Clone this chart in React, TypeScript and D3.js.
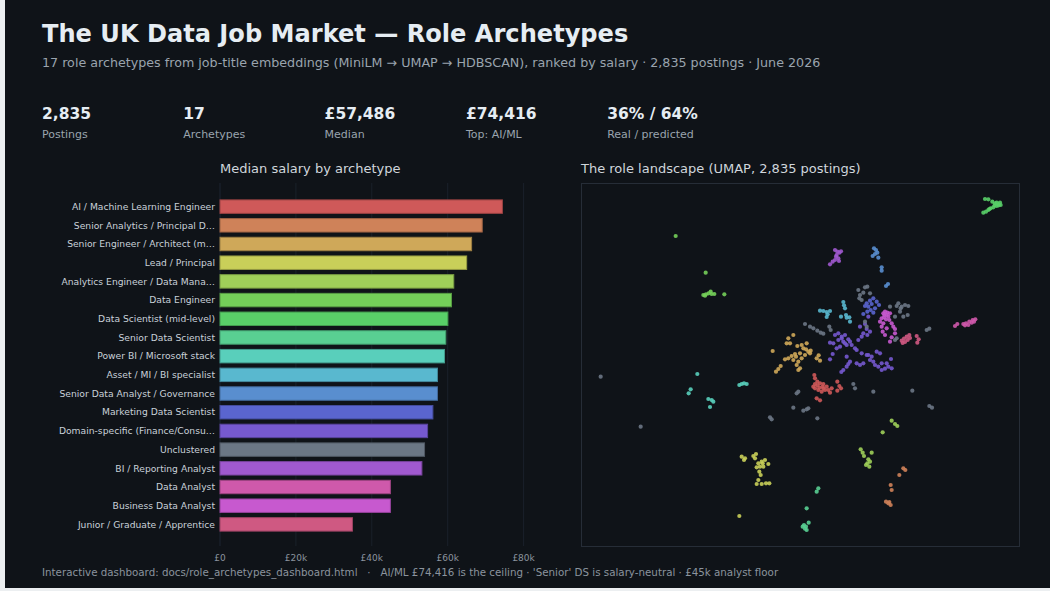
import React from 'react';
import * as d3 from 'd3';

const W = 1050;
const H = 591;

const titleText = 'The UK Data Job Market — Role Archetypes';
const subtitleText =
  '17 role archetypes from job-title embeddings (MiniLM → UMAP → HDBSCAN), ranked by salary · 2,835 postings · June 2026';
const footerText =
  "Interactive dashboard: docs/role_archetypes_dashboard.html   ·   AI/ML £74,416 is the ceiling · 'Senior' DS is salary-neutral · £45k analyst floor";

const kpiValues = ['2,835', '17', '£57,486', '£74,416', '36% / 64%'];
const kpiLabels = ['Postings', 'Archetypes', 'Median', 'Top: AI/ML', 'Real / predicted'];

// archetypes ranked by median salary (bar labels are truncated like the source)
const archetypes = [
  'AI / Machine Learning Engineer',
  'Senior Analytics / Principal D…',
  'Senior Engineer / Architect (m…',
  'Lead / Principal',
  'Analytics Engineer / Data Mana…',
  'Data Engineer',
  'Data Scientist (mid-level)',
  'Senior Data Scientist',
  'Power BI / Microsoft stack',
  'Asset / MI / BI specialist',
  'Senior Data Analyst / Governance',
  'Marketing Data Scientist',
  'Domain-specific (Finance/Consu…',
  'Unclustered',
  'BI / Reporting Analyst',
  'Data Analyst',
  'Business Data Analyst',
  'Junior / Graduate / Apprentice',
];
const medianSalary = [
  74416, 69100, 66300, 65000, 61600, 61000, 60050, 59500, 59150, 57300, 57300, 56100, 54700, 53900,
  53200, 44900, 44900, 34900,
];
const archetypeColors = [
  '#cf5959', '#cf8259', '#cfa859', '#c9cf59', '#9fcf59', '#74cf59', '#59cf68', '#59cf92', '#59cfbb',
  '#59b8cf', '#598ecf', '#5a65cf', '#7659cf', '#6b7785', '#a059cf', '#cf59ab', '#c759cf', '#cf5982',
];
const salaryTicks = [0, 20000, 40000, 60000, 80000];

const umapPoints: [number, number][][] = [
  // AI / ML
  [[5.03,3.15],[5.05,3.05],[5.05,2.88],[5.12,2.84],[5.2,2.9],[5.3,2.88],[5.4,2.8],[5.35,2.7],[5.25,2.65],[5.15,2.7],[5.05,2.75],[5.0,2.8],[5.45,2.7],[5.5,2.62],[5.55,2.75],[5.72,2.95],[5.78,2.82],[5.83,2.75],[5.72,2.68],[5.1,2.45],[5.2,2.39],[5.28,2.8],[5.18,2.77],[5.12,2.95],[5.3,2.75]],
  // Senior Analytics
  [[7.7,0.35],[7.76,0.3],[7.58,0.15],[7.32,-0.15],[7.35,-0.3],[7.18,-0.65],[7.25,-0.7],[7.32,-0.75],[7.28,-0.66]],
  // Senior Engineer
  [[4.4,4.35],[4.25,4.25],[4.2,4.1],[4.3,4.1],[3.78,3.87],[4.52,4.02],[4.65,4.05],[4.8,4.1],[4.7,3.95],[4.85,3.85],[4.9,3.8],[4.75,3.75],[4.6,3.8],[4.45,3.78],[4.35,3.72],[4.25,3.65],[4.15,3.62],[4.4,3.6],[4.55,3.55],[4.5,3.45],[4.6,3.35],[4.55,3.3],[4.02,3.42],[3.95,3.33],[3.88,3.25],[5.1,3.65],[5.2,3.58],[5.16,3.74],[4.78,3.92],[4.92,3.88],[4.48,3.7],[4.65,3.65]],
  // Lead / Principal
  [[2.85,0.7],[2.95,0.65],[2.92,0.6],[3.2,0.72],[3.28,0.78],[3.25,0.65],[3.35,0.5],[3.45,0.55],[3.55,0.6],[3.65,0.48],[3.4,0.4],[3.5,0.4],[3.3,0.38],[3.38,0.25],[3.42,0.15],[3.35,0.0],[3.3,-0.12],[3.45,-0.12],[3.58,-0.1],[3.68,-0.1],[3.48,0.5],[2.78,-1.08]],
  // Analytics Engineer
  [[7.35,1.78],[7.45,1.68],[7.52,1.62],[7.08,1.43],[6.42,0.92],[6.48,0.82],[6.52,0.72],[6.75,0.82],[6.65,0.62],[6.58,0.45],[6.68,0.4],[6.62,0.5],[6.7,0.55]],
  // Data Engineer
  [[0.87,7.32],[1.77,6.22],[1.7,5.55],[1.78,5.57],[1.86,5.6],[1.92,5.65],[1.95,5.58],[2.03,5.58],[2.33,5.57],[1.75,5.53]],
  // Data Scientist (mid-level)
  [[10.15,8.43],[10.25,8.42],[10.37,8.35],[10.45,8.3],[10.5,8.32],[10.55,8.28],[10.6,8.32],[10.62,8.25],[10.5,8.22],[10.4,8.18],[10.32,8.15],[10.25,8.1],[10.18,8.05],[10.1,8.02],[10.28,8.13],[10.56,8.24],[10.44,8.24]],
  // Senior Data Scientist
  [[5.15,-0.25],[5.1,-0.35],[4.8,-0.85],[4.68,-1.4],[4.75,-1.46],[4.8,-1.5],[4.86,-1.28],[4.72,-1.35],[4.78,-1.4]],
  // Power BI
  [[1.52,3.18],[1.32,2.72],[1.26,2.6],[1.85,2.43],[1.95,2.4],[2.0,2.35],[1.9,2.19],[2.78,2.85],[2.85,2.88],[2.92,2.9],[3.0,2.88]],
  // Asset / MI / BI
  [[5.2,5.08],[5.3,5.07],[5.4,5.04],[5.5,5.07],[5.43,4.97],[5.4,4.89],[5.9,5.34],[5.92,5.24],[5.95,5.15],[5.83,4.9],[5.98,4.95],[6.08,4.88],[6.1,4.75],[6.0,4.87]],
  // Senior Data Analyst / Governance
  [[6.82,6.95],[6.88,6.9],[6.92,6.82],[6.85,6.78],[6.78,6.72],[6.95,6.67],[7.05,6.38],[7.05,6.28],[7.18,5.82],[7.24,5.88]],
  // Marketing Data Scientist
  [[6.8,5.45],[6.7,5.38],[6.6,5.3],[6.55,5.22],[6.65,5.2],[6.75,5.28],[6.9,5.35],[6.97,5.25],[6.85,5.15],[6.8,5.02],[6.62,5.05],[6.5,4.98],[6.72,5.1]],
  // Domain-specific
  [[5.65,4.35],[5.75,4.4],[5.85,4.3],[5.95,4.35],[6.05,4.22],[5.75,4.2],[5.9,4.15],[6.0,4.05],[6.15,4.05],[5.8,4.0],[5.7,3.95],[5.6,4.1],[5.5,4.12],[5.58,3.78],[5.5,3.62],[5.85,4.25],[5.95,4.1],[6.1,4.15],[6.4,4.6],[6.55,4.68],[6.6,4.53],[6.5,4.4],[6.62,4.35],[6.7,4.45],[6.45,4.3],[6.35,4.2],[6.65,4.9],[6.0,3.7],[6.1,3.55],[6.0,3.4],[5.9,3.3],[5.84,3.24],[6.05,3.48],[6.3,3.9],[6.45,3.8],[6.6,3.75],[6.75,3.7],[6.8,3.55],[6.9,3.85],[7.0,3.8],[6.85,3.45],[6.95,3.4],[7.05,3.3],[7.15,3.34],[7.25,3.4],[7.35,3.35],[7.2,3.5],[7.05,3.5],[6.4,3.45],[6.5,3.5],[6.7,3.6],[6.3,3.5],[6.25,3.95],[7.33,3.63],[6.65,3.75]],
  // Unclustered
  [[6.35,5.7],[6.4,5.55],[6.45,5.4],[6.55,5.78],[6.62,5.8],[6.7,5.6],[6.5,5.62],[6.38,5.45],[7.55,5.3],[7.65,5.2],[7.75,5.25],[7.85,5.22],[7.6,5.05],[7.7,4.9],[7.83,4.95],[7.45,4.9],[7.5,5.22],[7.3,5.2],[7.62,5.15],[4.75,4.68],[4.9,4.6],[5.0,4.55],[5.12,4.48],[5.22,4.42],[5.3,4.39],[5.48,4.6],[5.52,4.5],[8.4,4.5],[8.48,4.54],[7.5,4.25],[7.45,4.2],[6.2,2.88],[6.25,2.75],[6.8,2.65],[7.97,2.68],[8.48,2.22],[8.56,2.17],[4.55,2.65],[4.5,2.6],[4.4,2.17],[4.7,2.08],[4.8,2.12],[4.85,2.15],[5.12,1.85],[3.7,1.88],[3.75,1.82],[-1.38,3.1],[-0.18,1.6],[6.55,4.75],[6.6,4.6]],
  // BI / Reporting
  [[5.65,6.9],[5.72,6.85],[5.78,6.82],[5.7,6.75],[5.83,6.86],[5.75,6.65],[5.65,6.6],[5.58,6.55],[5.5,6.47],[5.77,6.57],[5.68,6.7]],
  // Data Analyst
  [[9.25,4.62],[9.32,4.68],[9.5,4.68],[9.58,4.7],[9.68,4.75],[9.78,4.8],[9.86,4.82],[9.65,4.65],[9.75,4.72],[9.55,4.64],[9.82,4.75]],
  // Business Data Analyst
  [[7.1,5.0],[7.15,5.05],[7.2,4.95],[7.25,4.9],[7.12,4.88],[7.05,4.85],[7.3,5.0],[7.18,4.82],[7.28,4.8],[7.35,4.7],[7.4,4.6],[7.45,4.53],[7.1,4.7],[7.05,4.6],[7.08,4.45],[7.15,4.35],[7.3,4.15],[7.35,4.28],[7.45,4.4],[7.2,4.55],[7.0,4.75],[7.22,5.02],[7.13,4.95]],
  // Junior / Graduate / Apprentice
  [[7.65,4.18],[7.72,4.24],[7.8,4.3],[7.88,4.35],[7.75,4.14],[7.68,4.11],[8.1,4.32],[8.16,4.22],[8.12,4.12],[7.9,4.26],[7.83,4.2]],
];

const FONT = '"DejaVu Sans", sans-serif';
const BG = '#0f1318';

export default function App() {
  const bx0 = 220;
  const bx1 = 523.6;
  const x = d3.scaleLinear().domain([0, 80000]).range([bx0, bx1]);
  const y = d3
    .scaleBand<string>()
    .domain(archetypes)
    .range([184, 547])
    .paddingInner(0.28)
    .paddingOuter(0.85);
  const fmtTick = (v: number) => (v === 0 ? '£0' : `£${v / 1000}k`);

  // scatter frame
  const fx0 = 581;
  const fx1 = 1020;
  const fy0 = 183;
  const fy1 = 546;
  const ux = d3.scaleLinear().domain([-2, 11.2]).range([580, 1020]);
  const uy = d3.scaleLinear().domain([-2.1, 9]).range([550, 180]);

  const kpiX = d3.scaleLinear().domain([0, 1]).range([42, 183.3]);

  return (
    <div style={{ position: 'absolute', left: 0, top: 0, width: W, height: H }}>
      <svg width={W} height={H} style={{ display: 'block', fontFamily: FONT }}>
        <rect width={W} height={H} fill={BG} />
        <rect x={0} y={0} width={5} height={H} fill="#eceff1" />
        <rect x={0} y={H - 3} width={W} height={3} fill="#eceff1" />

        <text x={42} y={42} fontSize={24.1} fontWeight="bold" fill="#e6edf3">
          {titleText}
        </text>
        <text x={42} y={67} fontSize={12.7} fill="#9aa4ae">
          {subtitleText}
        </text>

        {kpiValues.map((v, i) => (
          <g key={v}>
            <text x={kpiX(i)} y={119} fontSize={15.5} fontWeight="bold" fill="#e6edf3">
              {v}
            </text>
            <text x={kpiX(i)} y={138} fontSize={11} fill="#9aa4ae">
              {kpiLabels[i]}
            </text>
          </g>
        ))}

        {/* bar chart */}
        <text x={bx0} y={173} fontSize={13} fill="#d0d6dc">
          Median salary by archetype
        </text>
        {salaryTicks.map((t) => (
          <g key={t}>
            <line x1={x(t)} x2={x(t)} y1={183} y2={546} stroke={t === 0 ? '#1d2530' : '#1a212a'} strokeWidth={1} />
            <text x={x(t)} y={561} fontSize={9} fill="#8b949e" textAnchor="middle">
              {fmtTick(t)}
            </text>
          </g>
        ))}
        {archetypes.map((a, i) => (
          <g key={a}>
            <rect
              x={x(0)}
              y={y(a)}
              width={x(medianSalary[i]) - x(0)}
              height={y.bandwidth()}
              fill={archetypeColors[i]}
              stroke={d3.color(archetypeColors[i])!.darker(0.8).formatHex()}
              strokeWidth={1}
            />
            <text
              x={bx0 - 5}
              y={(y(a) || 0) + y.bandwidth() / 2}
              dy="0.35em"
              fontSize={9.2}
              fill="#c9d1d9"
              textAnchor="end"
            >
              {a}
            </text>
          </g>
        ))}

        {/* UMAP landscape */}
        <text x={fx0} y={173} fontSize={13} fill="#d0d6dc">
          The role landscape (UMAP, 2,835 postings)
        </text>
        <rect x={fx0 + 0.5} y={fy0 + 0.5} width={fx1 - fx0 - 1} height={fy1 - fy0} fill="none" stroke="#262d37" strokeWidth={1} />
        {umapPoints.map((pts, i) => (
          <g key={archetypes[i]} fill={archetypeColors[i]} fillOpacity={0.9}>
            {pts.map(([px, py], j) => (
              <circle key={j} cx={ux(px)} cy={uy(py)} r={2.1} />
            ))}
          </g>
        ))}

        <text x={42} y={576} fontSize={10.3} fill="#8b949e" style={{ whiteSpace: 'pre' }}>
          {footerText}
        </text>
      </svg>
    </div>
  );
}
